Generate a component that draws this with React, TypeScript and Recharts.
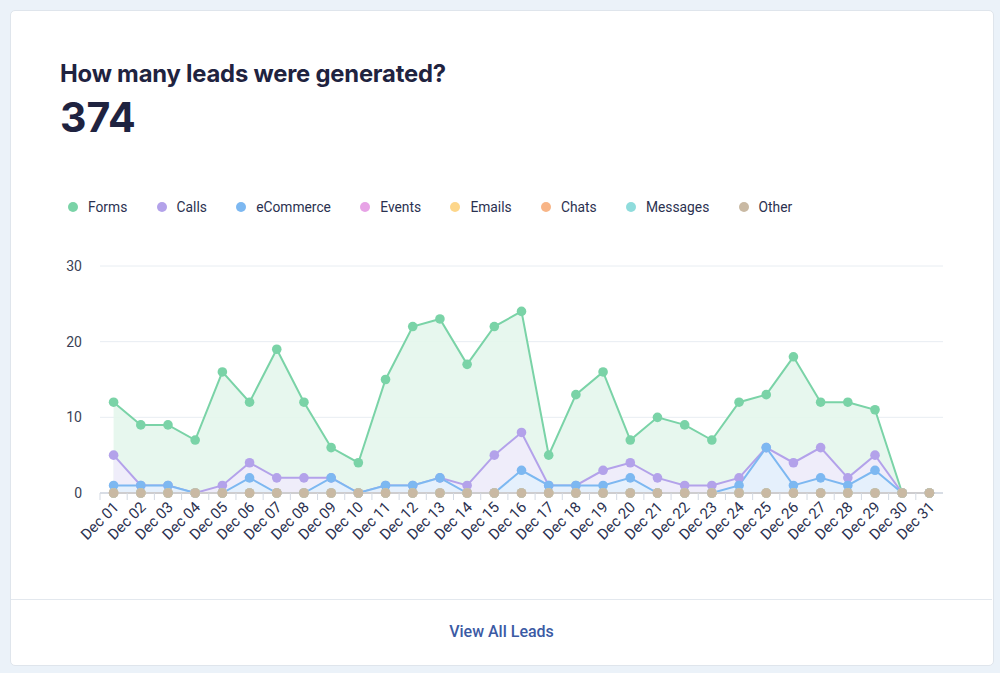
import React from 'react'
import { ComposedChart, Area, XAxis, YAxis, CartesianGrid } from 'recharts'

const days = [
  'Dec 01', 'Dec 02', 'Dec 03', 'Dec 04', 'Dec 05', 'Dec 06', 'Dec 07', 'Dec 08',
  'Dec 09', 'Dec 10', 'Dec 11', 'Dec 12', 'Dec 13', 'Dec 14', 'Dec 15', 'Dec 16',
  'Dec 17', 'Dec 18', 'Dec 19', 'Dec 20', 'Dec 21', 'Dec 22', 'Dec 23', 'Dec 24',
  'Dec 25', 'Dec 26', 'Dec 27', 'Dec 28', 'Dec 29', 'Dec 30', 'Dec 31',
]

const forms = [12, 9, 9, 7, 16, 12, 19, 12, 6, 4, 15, 22, 23, 17, 22, 24, 5, 13, 16, 7, 10, 9, 7, 12, 13, 18, 12, 12, 11, 0, 0]
const calls = [5, 1, 1, 0, 1, 4, 2, 2, 2, 0, 1, 1, 2, 1, 5, 8, 1, 1, 3, 4, 2, 1, 1, 2, 6, 4, 6, 2, 5, 0, 0]
const ecommerce = [1, 1, 1, 0, 0, 2, 0, 0, 2, 0, 1, 1, 2, 0, 0, 3, 1, 1, 1, 2, 0, 0, 0, 1, 6, 1, 2, 1, 3, 0, 0]
const events = days.map(() => 0)
const emails = days.map(() => 0)
const chats = days.map(() => 0)
const messages = days.map(() => 0)
const other = days.map(() => 0)

const yTicks = [0, 10, 20, 30]

const series = [
  { key: 'forms', name: 'Forms', color: '#7ad3a7', tint: '#e4f6ec', values: forms },
  { key: 'calls', name: 'Calls', color: '#b3a2ea', tint: '#efebfb', values: calls },
  { key: 'ecommerce', name: 'eCommerce', color: '#7db8f1', tint: '#e3effc', values: ecommerce },
  { key: 'events', name: 'Events', color: '#e7a3e6', tint: '#fbeefb', values: events },
  { key: 'emails', name: 'Emails', color: '#fdd68a', tint: '#fff7e7', values: emails },
  { key: 'chats', name: 'Chats', color: '#f8b587', tint: '#fef0e7', values: chats },
  { key: 'messages', name: 'Messages', color: '#8fdcdc', tint: '#e9f8f8', values: messages },
  { key: 'other', name: 'Other', color: '#c9b9a3', tint: '#f4f1ec', values: other },
]

const data = days.map((day, i) => {
  const row: Record<string, string | number> = { day }
  series.forEach((s) => {
    row[s.key] = s.values[i]
  })
  return row
})

const total = forms.reduce((sum, v) => sum + v, 0)

const CHART_W = 1000
const CHART_H = 340
const margin = { top: 26, right: 57, bottom: 27, left: 60 }
const plotW = CHART_W - margin.left - margin.right - 40
const band = plotW / days.length

function DayTick(props: any) {
  const { x, y, payload } = props
  const edge = x - band / 2
  return (
    <g>
      <line x1={edge} y1={y} x2={edge} y2={y + 7} stroke="#d3d9e2" strokeWidth={1} />
      <text
        x={x + 6}
        y={y + 15}
        textAnchor="end"
        fill="#2b3150"
        fontSize={15}
        fontFamily="Roboto, sans-serif"
        transform={`rotate(-45 ${x + 6} ${y + 15})`}
      >
        {payload.value}
      </text>
    </g>
  )
}

export default function App() {
  return (
    <div
      style={{
        position: 'absolute',
        left: 0,
        top: 0,
        width: 1000,
        height: 673,
        background: '#ebf2f9',
        fontFamily: 'Inter, sans-serif',
      }}
    >
      <div
        style={{
          position: 'absolute',
          left: 10,
          top: 10,
          width: 982,
          height: 654,
          background: '#fff',
          border: '1px solid #dfe5ec',
          borderRadius: 5,
        }}
      />
      <div
        style={{
          position: 'absolute',
          left: 60,
          top: 59,
          fontSize: 23.8,
          fontWeight: 700,
          color: '#1f2340',
          letterSpacing: -0.2,
        }}
      >
        How many leads were generated?
      </div>
      <div
        style={{
          position: 'absolute',
          left: 60,
          top: 92,
          fontSize: 41,
          fontWeight: 700,
          color: '#1f2340',
        }}
      >
        {total}
      </div>

      <div
        style={{
          position: 'absolute',
          left: 68,
          top: 199,
          display: 'flex',
          alignItems: 'center',
          fontFamily: 'Roboto, sans-serif',
          fontSize: 13.8,
          color: '#2b3150',
        }}
      >
        {series.map((s) => (
          <div key={s.key} style={{ display: 'flex', alignItems: 'center', marginRight: 29.3 }}>
            <span
              style={{
                width: 10,
                height: 10,
                borderRadius: 5,
                background: s.color,
                marginRight: 10,
                display: 'inline-block',
              }}
            />
            <span>{s.name}</span>
          </div>
        ))}
      </div>

      <div style={{ position: 'absolute', left: 0, top: 240 }}>
        <ComposedChart width={CHART_W} height={CHART_H} data={data} margin={margin}>
          <CartesianGrid vertical={false} stroke="#e8edf2" />
          <XAxis
            dataKey="day"
            interval={0}
            height={60}
            padding={{ left: band / 2, right: band / 2 }}
            tickSize={0}
            tickMargin={0}
            tickLine={false}
            axisLine={{ stroke: '#cfd5de', strokeWidth: 1.5 }}
            tick={<DayTick />}
          />
          <YAxis
            width={40}
            domain={[0, 30]}
            ticks={yTicks}
            axisLine={false}
            tickLine={false}
            tickSize={6}
            tickMargin={12}
            tick={{ fill: '#3a3f55', fontSize: 14, fontFamily: 'Roboto, sans-serif' }}
          />
          {series.map((s) => (
            <Area
              key={s.key}
              type="linear"
              dataKey={s.key}
              name={s.name}
              stroke={s.color}
              strokeWidth={2}
              fill={s.tint}
              fillOpacity={0.9}
              dot={{ r: 4.8, fill: s.color, fillOpacity: 1, stroke: s.color, strokeWidth: 0 }}
              activeDot={false}
              isAnimationActive={false}
            />
          ))}
        </ComposedChart>
      </div>

      <div
        style={{
          position: 'absolute',
          left: 11,
          top: 599,
          width: 981,
          height: 1,
          background: '#e3e8ee',
        }}
      />
      <div
        style={{
          position: 'absolute',
          left: 0,
          top: 622,
          width: 1003,
          textAlign: 'center',
          fontFamily: 'Roboto, sans-serif',
          fontSize: 16,
          fontWeight: 500,
          color: '#3b5aa4',
        }}
      >
        View All Leads
      </div>
    </div>
  )
}
